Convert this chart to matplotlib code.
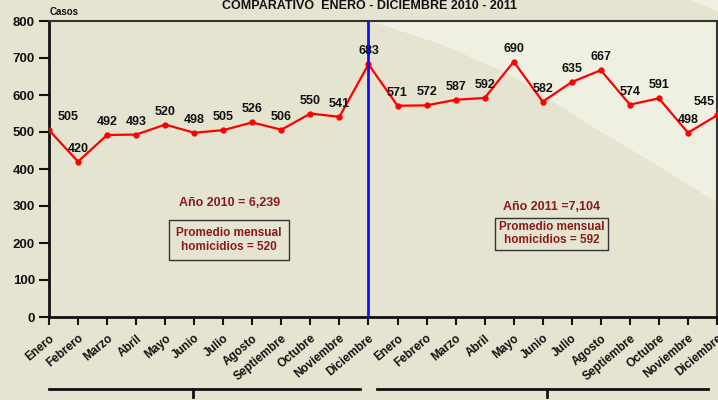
import matplotlib.pyplot as plt
from matplotlib.patches import Polygon
from matplotlib.lines import Line2D
import matplotlib.transforms as mtransforms

# Data
meses = ['Enero', 'Febrero', 'Marzo', 'Abril', 'Mayo', 'Junio', 'Julio',
         'Agosto', 'Septiembre', 'Octubre', 'Noviembre', 'Diciembre']
casos_2010 = [505, 420, 492, 493, 520, 498, 505, 526, 506, 550, 541, 683]
casos_2011 = [571, 572, 587, 592, 690, 582, 635, 667, 574, 591, 498, 545]
yticks = [0, 100, 200, 300, 400, 500, 600, 700, 800]

plt.rcParams['font.family'] = ['Liberation Sans', 'DejaVu Sans']
plt.rcParams['font.weight'] = 'bold'

bg = '#e5e4d0'
light = '#f0f0e2'
dark_red = '#8b1a1a'

W, H = 718, 400
fig = plt.figure(figsize=(W / 100, H / 100), dpi=100, facecolor=bg)

# lighter band in the top right corner of the figure
fig.patches.append(Polygon([(690 / W, 1), (1, 1), (1, 1 - 12 / H)],
                           closed=True, transform=fig.transFigure,
                           facecolor=light, edgecolor='none', zorder=0))

ax = fig.add_axes([49 / W, 83 / H, 668 / W, 296 / H])
ax.set_facecolor(bg)

# lighter diagonal region inside the plot (axes coords)
def px(x, y):
    return ((x - 49) / 668, (317 - y) / 296)

shade = Polygon([px(370, 21), px(718, 21), px(718, 203), px(640, 155),
                 px(593, 127), px(507, 73), px(440, 44)],
                closed=True, transform=ax.transAxes, facecolor=light,
                edgecolor='none', zorder=0)
ax.add_patch(shade)

valores = casos_2010 + casos_2011
x = list(range(len(valores)))
etiquetas = meses + meses

ax.plot(x, valores, color='#ff0000', lw=1.6, marker='o', ms=3.5, zorder=3)
ax.axvline(11, color='#1010ff', lw=2, zorder=4)

# value labels
dx = {0: 14, 23: -9}
for i, v in enumerate(valores):
    ax.annotate(str(v), (i, v), xytext=(dx.get(i, 0), 5), textcoords='offset points',
                ha='center', va='bottom', fontsize=9, fontweight='bold', color='#111111',
                zorder=5, annotation_clip=False)

ax.set_xlim(0, 23)
ax.set_ylim(0, 800)
ax.set_yticks(yticks)
ax.set_yticklabels([str(t) for t in yticks], fontsize=9.5, fontweight='bold')
ax.set_xticks(x)
ax.set_xticklabels(etiquetas, rotation=40, ha='right', va='top',
                   rotation_mode='anchor', fontsize=8.5, fontweight='bold')
ax.tick_params(axis='y', length=7, width=1.5, pad=3, colors='#111111')
ax.tick_params(axis='x', length=6, width=1.5, pad=5, colors='#111111')

for side in ['left', 'bottom']:
    ax.spines[side].set_linewidth(2)
    ax.spines[side].set_color('#111111')
for side in ['top', 'right']:
    ax.spines[side].set_linewidth(1.5)
    ax.spines[side].set_color('#333333')

# summary texts
ax.text(6.2, 307, 'Año 2010 = 6,239', ha='center', va='center', fontsize=9,
        fontweight='bold', color=dark_red)
ax.text(6.2, 208, 'Promedio mensual\nhomicidios = 520', ha='center', va='center',
        fontsize=8.5, fontweight='bold', color=dark_red, linespacing=1.15,
        bbox=dict(boxstyle='square,pad=0.6', facecolor=bg, edgecolor='#333333', lw=1))
ax.text(17.3, 296, 'Año 2011 =7,104', ha='center', va='center', fontsize=9,
        fontweight='bold', color=dark_red)
ax.text(17.3, 225, 'Promedio mensual\nhomicidios = 592', ha='center', va='center',
        fontsize=8.5, fontweight='bold', color=dark_red, linespacing=1.15,
        bbox=dict(boxstyle='square,pad=0.3', facecolor=bg, edgecolor='#333333', lw=1))

# title and axis caption
fig.text(370 / W, 1 - 6 / H, 'COMPARATIVO  ENERO - DICIEMBRE 2010 - 2011', ha='center',
         va='center', fontsize=9, fontweight='bold', color='#111111')
fig.text(50 / W, 1 - 12 / H, 'Casos', ha='left', va='center', fontsize=7,
         fontweight='bold', color='#111111')

# year brackets under the month labels
trans = mtransforms.blended_transform_factory(ax.transData, ax.transAxes)
yb = (317 - 389) / 296
yt = (317 - 397) / 296
for x0, x1, xm in [(0, 10.7, 4.95), (11.3, 22.7, 17.15)]:
    ax.add_line(Line2D([x0, x1], [yb, yb], transform=trans, color='#111111', lw=2,
                       clip_on=False))
    ax.add_line(Line2D([xm, xm], [yb, yt], transform=trans, color='#111111', lw=2,
                       clip_on=False))

fig.savefig('out.png', dpi=100, facecolor=bg)
